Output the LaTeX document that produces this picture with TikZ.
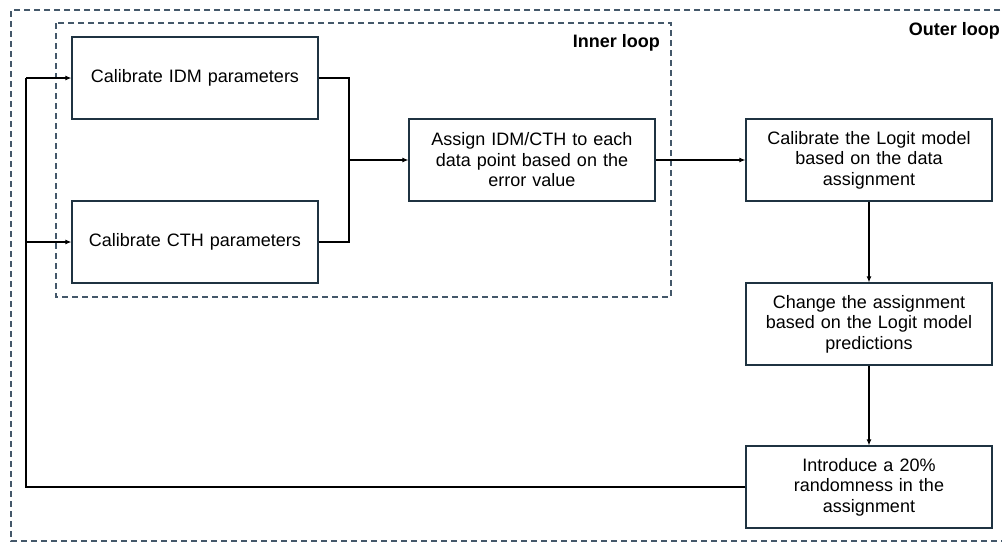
\documentclass[tikz,border=0pt]{standalone}
\usepackage{fontspec}
\setmainfont{Liberation Sans}
\usetikzlibrary{arrows.meta}
\definecolor{boxline}{HTML}{1F3341}
\definecolor{dashline}{HTML}{44586A}
\tikzset{
  stepbox/.style={draw=boxline, line width=1.2pt, minimum width=246pt, minimum height=82pt,
    align=center, inner sep=0pt, font=\fontsize{18pt}{20.5pt}\selectfont, text width=240pt},
  conn/.style={draw=black, line width=1.1pt},
  arr/.style={conn, -{Latex[length=6pt,width=5pt]}},
  loopbox/.style={draw=dashline, line width=1.2pt, dash pattern=on 6pt off 4pt},
  looplabel/.style={font=\bfseries\fontsize{18pt}{20pt}\selectfont, inner sep=0pt}
}
\begin{document}
\begin{tikzpicture}[x=1pt,y=-1pt]
\useasboundingbox (0,0) rectangle (1002,542);
\clip (0,0) rectangle (1002,542);
% outer loop
\draw[loopbox] (1010,10) -- (11,10) -- (11,541) -- (1010,541);
\node[looplabel, anchor=east] (outerlbl) at (1000,31) {Outer loop};
% inner loop
\draw[loopbox] (56,23) rectangle (671,297);
\node[looplabel, anchor=east] (innerlbl) at (660,43) {Inner loop};
% boxes
\node[stepbox] (idm) at (195,78) {Calibrate IDM parameters};
\node[stepbox] (cth) at (195,242) {Calibrate CTH parameters};
\node[stepbox] (assign) at (532,160) {Assign IDM/CTH to each\\data point based on the\\error value};
\node[stepbox] (logit) at (869,160) {Calibrate the Logit model\\based on the data\\assignment};
\node[stepbox] (change) at (869,324) {Change the assignment\\based on the Logit model\\predictions};
\node[stepbox] (intro) at (869,487) {Introduce a 20\%\\randomness in the\\assignment};
% merge
\coordinate (mj) at (349,160);
\draw[conn] (idm.east) -| (mj);
\draw[conn] (cth.east) -| (mj);
\draw[arr] (mj) -- (assign.west);
\draw[arr] (assign.east) -- (logit.west);
\draw[arr] (logit.south) -- (change.north);
\draw[arr] (change.south) -- (intro.north);
% feedback
\coordinate (fb) at (26,487);
\coordinate (fbtop) at (26,78);
\coordinate (fbmid) at (26,242);
\draw[conn] (intro.west) -- (fb) -- (fbtop);
\draw[arr] (fbtop) -- (idm.west);
\draw[arr] (fbmid) -- (cth.west);
\end{tikzpicture}
\end{document}
